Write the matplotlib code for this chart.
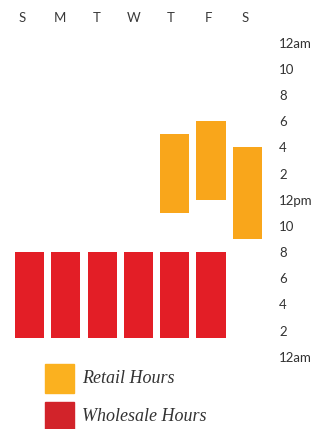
import numpy as np
import matplotlib.pyplot as plt
from matplotlib.patches import Rectangle

days = ["S", "M", "T", "W", "T", "F", "S"]
hour_ticks = [0, 2, 4, 6, 8, 10, 12, 14, 16, 18, 20, 22, 24]
hour_labels = ["12am", "2", "4", "6", "8", "10", "12pm", "2", "4", "6", "8", "10", "12am"]

# wholesale: Sun-Fri, open/close in hours
wholesale_days = [0, 1, 2, 3, 4, 5]
wholesale_open = [1.4, 1.4, 1.4, 1.4, 1.4, 1.4]
wholesale_close = [8, 8, 8, 8, 8, 8]

# retail: Thu-Sat
retail_days = [4, 5, 6]
retail_open = [11, 12, 9]
retail_close = [17, 18, 16]

RETAIL = "#F9A61B"
WHOLESALE = "#E31E26"
TEXT = "#333333"

W, H = 314, 429
fig = plt.figure(figsize=(W / 100, H / 100), dpi=100)

# axes box in pixels (left, right, top, bottom)
L, R, T, B = 8, 268, 30, 365
ax = fig.add_axes([L / W, 1 - B / H, (R - L) / W, (B - T) / H])

x_w = np.array(wholesale_days)
ax.bar(x_w, np.array(wholesale_close) - np.array(wholesale_open),
       bottom=wholesale_open, width=0.8, color=WHOLESALE)
x_r = np.array(retail_days)
ax.bar(x_r, np.array(retail_close) - np.array(retail_open),
       bottom=retail_open, width=0.8, color=RETAIL)

ax.set_xlim((L - 29.5) / 36.3, (R - 29.5) / 36.3)
ax.set_ylim((356.7 - B) / 13.08, (356.7 - T) / 13.08)

# day labels sit a little left of the bar centres
ax.set_xticks(np.arange(7) * 1.025 - 0.2)
ax.set_xticklabels(days)
ax.xaxis.tick_top()
ax.tick_params(axis="x", length=0, pad=4, labelsize=9.5, labelcolor="#3a3a3a")

ax.set_yticks(hour_ticks)
ax.set_yticklabels(hour_labels)
ax.yaxis.tick_right()
ax.tick_params(axis="y", length=0, pad=8, labelsize=9.5, labelcolor=TEXT)

for lab in ax.get_xticklabels() + ax.get_yticklabels():
    lab.set_family("Lato")

for s in ax.spines.values():
    s.set_visible(False)

# legend drawn by hand
items = [("Retail Hours", "#FBB11F", 364), ("Wholesale Hours", "#D2232A", 402)]
for label, col, top in items:
    fig.add_artist(Rectangle((45 / W, 1 - (top + 29) / H), 29 / W, 29 / H,
                             transform=fig.transFigure, color=col))
    fig.text(82 / W, 1 - (top + 14.5) / H, label, ha="left", va="center",
             fontsize=13, style="italic", family="Liberation Serif", color=TEXT)

fig.savefig("out.png", dpi=100)
